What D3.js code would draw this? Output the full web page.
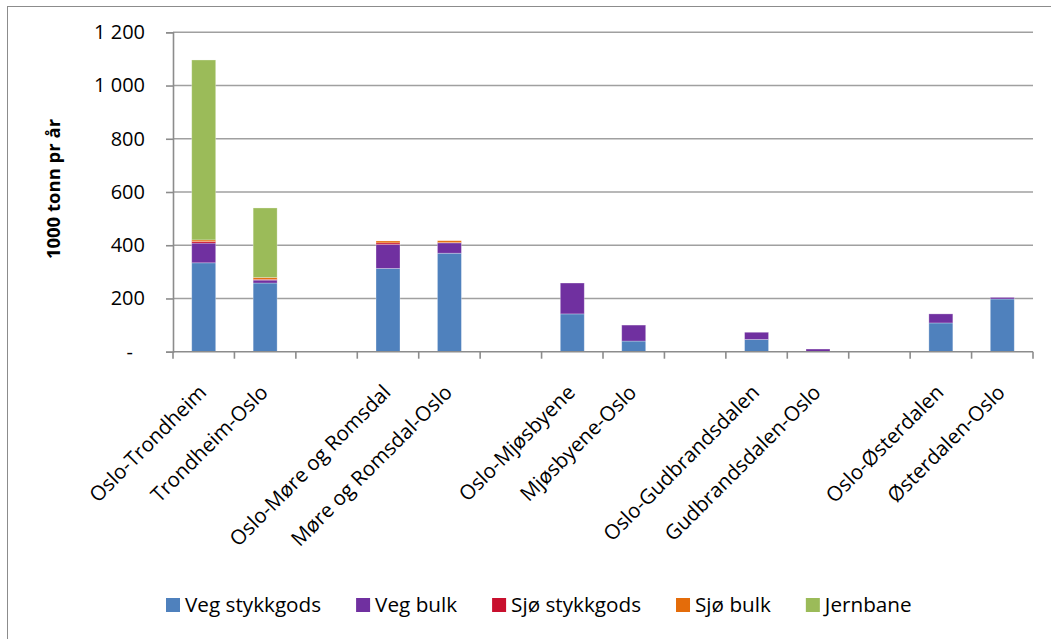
<!DOCTYPE html>
<html>
<head>
<meta charset="utf-8">
<script src="https://cdn.jsdelivr.net/npm/d3@7"></script>
<style>
  html, body { margin: 0; padding: 0; background: #ffffff; }
  svg { display: block; }
  text { font-family: "Open Sans", "Noto Sans", sans-serif; fill: #000; }
</style>
</head>
<body>
<svg id="chart" width="1051" height="639"></svg>
<script>
// ---- data ----
const categories = ["Oslo-Trondheim", "Trondheim-Oslo", "",
  "Oslo-Møre og Romsdal", "Møre og Romsdal-Oslo", "",
  "Oslo-Mjøsbyene", "Mjøsbyene-Oslo", "",
  "Oslo-Gudbrandsdalen", "Gudbrandsdalen-Oslo", "",
  "Oslo-Østerdalen", "Østerdalen-Oslo"];
const seriesNames = ["Veg stykkgods", "Veg bulk", "Sjø stykkgods", "Sjø bulk", "Jernbane"];
const vegStykkgods = [334, 258, 0, 313, 370, 0, 142, 40, 0, 46, 1, 0, 108, 198];
const vegBulk      = [74, 11, 0, 90, 39, 0, 116, 60, 0, 27, 9, 0, 34, 6];
const sjoStykkgods = [6, 3, 0, 6, 1, 0, 0, 0, 0, 0, 0, 0, 0, 0];
const sjoBulk      = [6, 7, 0, 7, 7, 0, 0, 0, 0, 0, 0, 0, 0, 0];
const jernbane     = [676, 261, 0, 0, 0, 0, 0, 0, 0, 0, 0, 0, 0, 0];
const yTicks = [0, 200, 400, 600, 800, 1000, 1200];
const yTitle = "1000 tonn pr år";
const colors = ["#4F81BD", "#7030A0", "#C8102E", "#E46C0A", "#9BBB59"];

// ---- layout ----
const svg = d3.select("#chart");
const plot = { left: 173, right: 1033, top: 32.3, bottom: 351.7 };

// outer frame (only top/left visible in picture)
svg.append("rect").attr("x", 7.5).attr("y", 6.5).attr("width", 1200).attr("height", 800)
  .attr("fill", "none").attr("stroke", "#8c8c8c").attr("stroke-width", 1);

const x = d3.scaleBand().domain(d3.range(categories.length))
  .range([plot.left, plot.right]).paddingInner(0.61).paddingOuter(0.305);
const xStep = (plot.right - plot.left) / categories.length;
const y = d3.scaleLinear().domain([0, 1200]).range([plot.bottom, plot.top]);

// gridlines
svg.append("g").selectAll("line").data(yTicks.filter(d => d > 0)).join("line")
  .attr("x1", plot.left).attr("x2", plot.right)
  .attr("y1", d => y(d)).attr("y2", d => y(d))
  .attr("stroke", "#a0a0a0").attr("stroke-width", 1.6);

// stacked data
const rows = categories.map((c, i) => ({
  i: i,
  "Veg stykkgods": vegStykkgods[i], "Veg bulk": vegBulk[i], "Sjø stykkgods": sjoStykkgods[i],
  "Sjø bulk": sjoBulk[i], "Jernbane": jernbane[i]
}));
const stack = d3.stack().keys(seriesNames)(rows);
const color = d3.scaleOrdinal().domain(seriesNames).range(colors);

svg.append("g").selectAll("g").data(stack).join("g")
  .attr("fill", d => color(d.key))
  .selectAll("rect").data(d => d.filter(p => p[1] - p[0] > 0)).join("rect")
  .attr("x", d => x(d.data.i))
  .attr("width", x.bandwidth())
  .attr("y", d => y(d[1]))
  .attr("height", d => y(d[0]) - y(d[1]))
  .attr("stroke", "rgba(255,255,255,0.35)").attr("stroke-width", 0.8);

// y axis
const fmt = d3.formatLocale({ decimal: ",", thousands: " ", grouping: [3], currency: ["", ""] }).format(",d");
const yAxis = svg.append("g").attr("transform", `translate(${plot.left},0)`)
  .call(d3.axisLeft(y).tickValues(yTicks).tickSize(7).tickPadding(21)
    .tickFormat(d => d === 0 ? "-" : fmt(d)));
yAxis.select(".domain").attr("stroke", "#8c8c8c").attr("stroke-width", 1.6);
yAxis.selectAll(".tick line").attr("stroke", "#8c8c8c").attr("stroke-width", 1.6);
yAxis.selectAll(".tick text").style("font-size", "20px").attr("fill", "#000")
  .attr("font-family", "Open Sans")
  .attr("x", d => d === 0 ? -40 : -28);

// x axis line + ticks at category boundaries
const xg = svg.append("g");
xg.append("line").attr("x1", plot.left).attr("x2", plot.right)
  .attr("y1", plot.bottom).attr("y2", plot.bottom)
  .attr("stroke", "#8c8c8c").attr("stroke-width", 1.6);
xg.selectAll("line.tk").data(d3.range(categories.length + 1)).join("line")
  .attr("class", "tk")
  .attr("x1", d => plot.left + d * xStep).attr("x2", d => plot.left + d * xStep)
  .attr("y1", plot.bottom).attr("y2", plot.bottom + 7)
  .attr("stroke", "#8c8c8c").attr("stroke-width", 1.6);

// x labels rotated
xg.selectAll("text").data(categories.map((c, i) => ({ c, i })).filter(d => d.c)).join("text")
  .attr("transform", d => `translate(${x(d.i) + x.bandwidth() / 2 + 4},${plot.bottom + 42}) rotate(-45)`)
  .attr("text-anchor", "end")
  .style("font-size", "20.5px")
  .text(d => d.c);

// y title
svg.append("text")
  .attr("transform", "translate(60,189) rotate(-90)")
  .attr("text-anchor", "middle")
  .style("font-size", "18.5px").style("font-weight", "bold")
  .text(yTitle);

// legend
const lg = svg.append("g");
let lx = 166;
seriesNames.forEach((name, k) => {
  lg.append("rect").attr("x", lx).attr("y", 598).attr("width", 14).attr("height", 14)
    .attr("fill", colors[k]);
  const t = lg.append("text").attr("x", lx + 19).attr("y", 612)
    .style("font-size", "20.7px").text(name);
  lx += 19 + t.node().getComputedTextLength() + 35;
});
</script>
</body>
</html>
